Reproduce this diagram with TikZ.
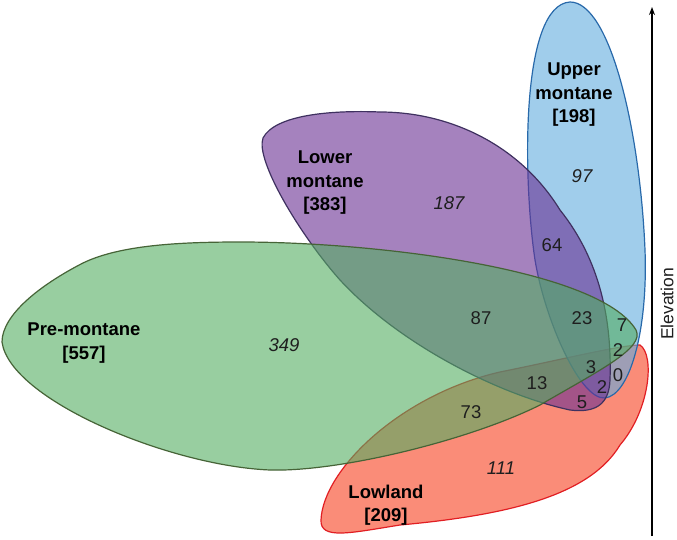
\documentclass[tikz,border=0pt]{standalone}
\usepackage{fontspec}
\setmainfont{Liberation Sans}
\usetikzlibrary{arrows.meta}
\definecolor{gfill}{RGB}{83,173,97}
\definecolor{gline}{RGB}{70,100,55}
\definecolor{pfill}{RGB}{105,47,147}
\definecolor{pline}{RGB}{63,49,96}
\definecolor{bfill}{RGB}{97,172,222}
\definecolor{bline}{RGB}{40,105,170}
\definecolor{rfill}{RGB}{247,63,30}
\definecolor{rline}{RGB}{225,30,35}
\definecolor{txt}{RGB}{30,30,30}
\tikzset{
  setshape/.style={line width=1.2pt, fill opacity=0.6, draw opacity=1},
  setlabel/.style={font=\fontsize{18.5}{23.5}\selectfont\bfseries, align=center, text=black, inner sep=0pt},
  uniq/.style={font=\fontsize{18.5}{22}\selectfont\itshape, text=txt, inner sep=0pt},
  shared/.style={font=\fontsize{18.5}{22}\selectfont, text=txt, inner sep=0pt}
}
\begin{document}
\begin{tikzpicture}[x=1pt,y=-1pt]
\useasboundingbox (0,0) rectangle (677,540);
% Lowland (red)
\draw[setshape, draw=rline, fill=rfill]
 (321,520) .. controls (323,470) and (400,395) .. (500,372)
 .. controls (560,360) and (620,345) .. (640,345)
 .. controls (655,355) and (650,410) .. (620,445)
 .. controls (590,495) and (510,515) .. (400,525)
 .. controls (350,533) and (320,540) .. (321,520) -- cycle;
% Upper montane (blue)
\draw[setshape, draw=bline, fill=bfill]
 (570,2) .. controls (610,2) and (640,130) .. (645,250)
 .. controls (648,330) and (630,395) .. (605,398)
 .. controls (580,400) and (545,320) .. (535,260)
 .. controls (523,180) and (520,5) .. (570,2) -- cycle;
% Lower montane (purple)
\draw[setshape, draw=pline, fill=pfill]
 (263,138) .. controls (275,115) and (330,110) .. (380,112)
 .. controls (450,112) and (520,145) .. (560,210)
 .. controls (600,260) and (612,320) .. (610,380)
 .. controls (609,405) and (595,413) .. (570,410)
 .. controls (500,395) and (400,345) .. (340,280)
 .. controls (300,235) and (255,160) .. (263,138) -- cycle;
% Pre-montane (green)
\draw[setshape, draw=gline, fill=gfill]
 (2,342) .. controls (2,315) and (40,285) .. (83,263)
 .. controls (120,245) and (180,242) .. (240,242)
 .. controls (380,242) and (600,270) .. (636,330)
 .. controls (645,348) and (600,370) .. (540,405)
 .. controls (470,440) and (340,472) .. (270,470)
 .. controls (170,466) and (10,400) .. (2,342) -- cycle;
% labels
\node[setlabel] (lpre) at (84,343) {Pre-montane\\{}[557]};
\node[setlabel] (llow) at (325,183) {Lower\\montane\\{}[383]};
\node[setlabel] (lup) at (574,95) {Upper\\montane\\{}[198]};
\node[setlabel] (lland) at (386,505) {Lowland\\{}[209]};
% counts
\node[uniq] (n349) at (284,345) {349};
\node[uniq] (n187) at (449,203) {187};
\node[uniq] (n97) at (582,176) {97};
\node[uniq] (n111) at (501,468) {111};
\node[shared] (n64) at (552,245) {64};
\node[shared] (n87) at (481,318) {87};
\node[shared] (n23) at (582,318) {23};
\node[shared] (n7) at (622,325) {7};
\node[shared] (n2a) at (618,350) {2};
\node[shared] (n3) at (591,367) {3};
\node[shared] (n0) at (618,375) {0};
\node[shared] (n2b) at (602,387) {2};
\node[shared] (n5) at (582,402) {5};
\node[shared] (n13) at (537,383) {13};
\node[shared] (n73) at (471,412) {73};
% elevation axis
\coordinate (abot) at (652,536);
\coordinate (atop) at (652,7);
\draw[line width=1.3pt, -{Stealth[length=8pt,width=6pt]}] (abot) -- (atop);
\node[font=\fontsize{17.5}{20}\selectfont, text=txt, rotate=90, inner sep=0pt] (elev) at (667,304) {Elevation};
\end{tikzpicture}
\end{document}
